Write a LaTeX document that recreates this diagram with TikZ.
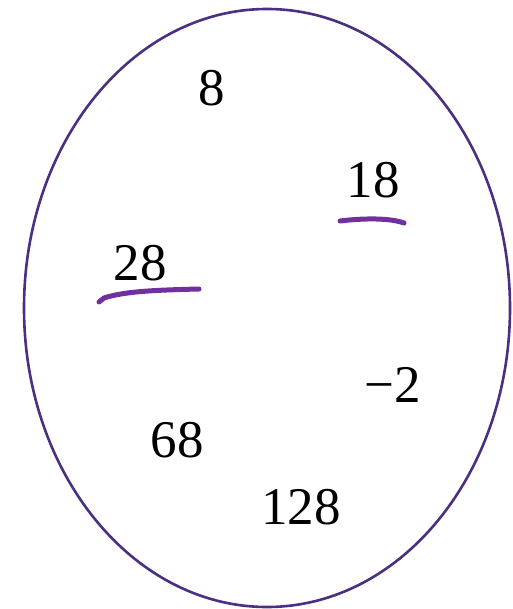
\documentclass[tikz,border=0pt]{standalone}
\usepackage{fontspec}
\setmainfont{Liberation Serif}
\usetikzlibrary{shapes.geometric}
\begin{document}
\begin{tikzpicture}[x=1pt,y=-1pt,
  num/.style={font=\fontsize{53}{56}\selectfont, inner sep=0pt, anchor=center},
  ulmark/.style={draw=mk, line width=5pt, line cap=round, line join=round}]
\definecolor{ring}{HTML}{4A2F82}
\definecolor{mk}{HTML}{7030A0}
\useasboundingbox (0,0) rectangle (512,609);
\node[draw=ring, line width=2.6pt, ellipse, minimum width=486pt, minimum height=598pt, inner sep=0pt] (set) at (267,308) {};
\node[num] (n8) at (212,88) {8};
\node[num] (n18) at (373,180) {18};
\node[num] (n28) at (140,263) {28};
\node[num] (nm2) at (393,385) {−2};
\node[num] (n68) at (177,440) {68};
\node[num] (n128) at (301,507) {128};
\coordinate (u18a) at (340,221);
\coordinate (u18b) at (404,223);
\draw[ulmark] (u18a) .. controls (365,218) and (390,218) .. (u18b);
\coordinate (u28a) at (199,289);
\coordinate (u28b) at (99,302);
\draw[ulmark] (u28a) .. controls (160,290) and (125,291) .. (104,298) -- (u28b);
\end{tikzpicture}
\end{document}
